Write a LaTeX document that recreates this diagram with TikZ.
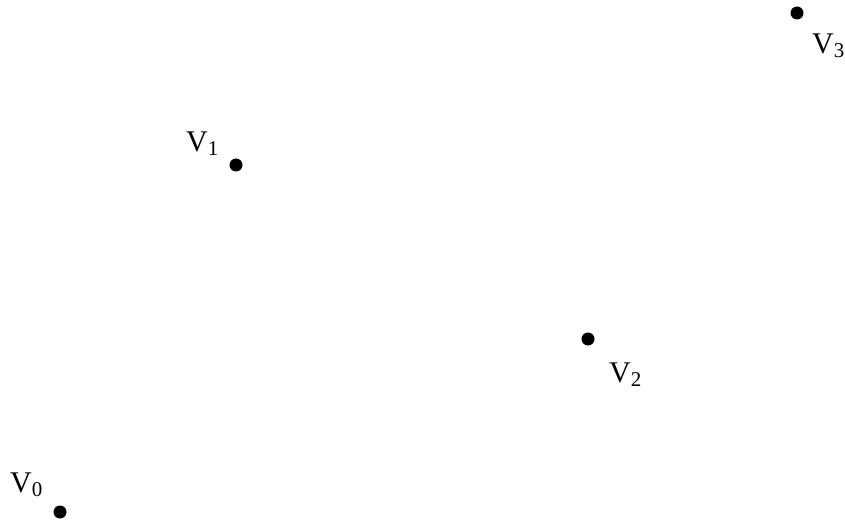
\documentclass[tikz,border=0pt]{standalone}
\usepackage{fontspec}
\setmainfont{Liberation Serif}
\newcommand\vlab[1]{V\raisebox{-4pt}{\fontsize{21}{21}\selectfont #1}}
\begin{document}
\begin{tikzpicture}[x=1pt,y=-1pt,
  vdot/.style={circle,fill=black,inner sep=0pt,minimum size=13pt},
  vlabel/.style={anchor=base west,inner sep=0pt,font=\fontsize{30}{30}\selectfont}]
\useasboundingbox (0,0) rectangle (845,521);
\node[vdot] (d0) at (60,512) {};
\node[vdot] (d1) at (236,165) {};
\node[vdot] (d2) at (588,339) {};
\node[vdot] (d3) at (797,13) {};
\node[vlabel] (l0) at (10,492) {\vlab{0}};
\node[vlabel] (l1) at (186,152) {\vlab{1}};
\node[vlabel] (l2) at (609,382) {\vlab{2}};
\node[vlabel] (l3) at (812,54) {\vlab{3}};
\end{tikzpicture}
\end{document}
